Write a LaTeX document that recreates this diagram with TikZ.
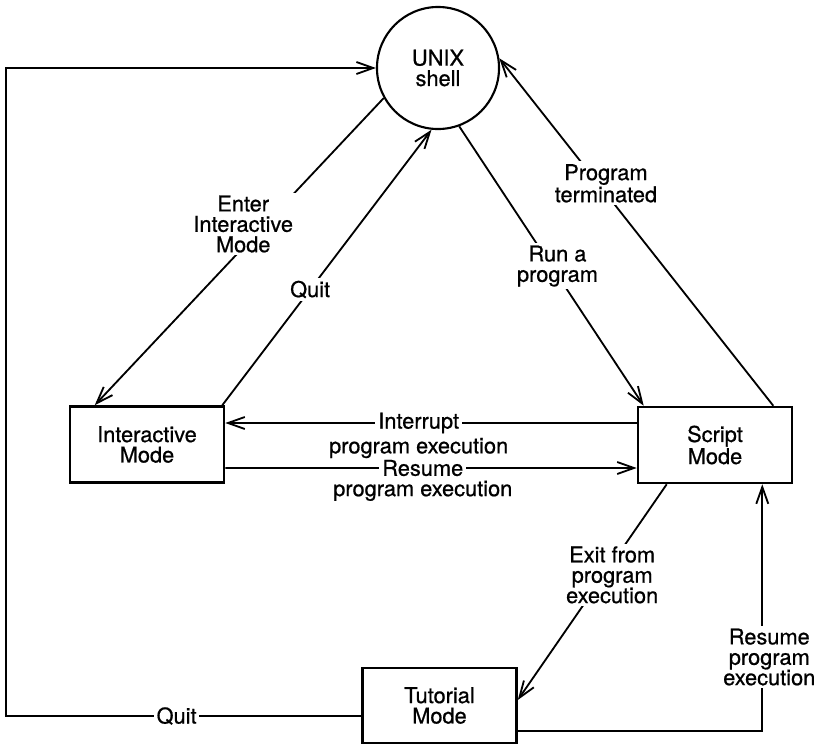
\documentclass[tikz,border=0pt]{standalone}
\usepackage{fontspec}
\setmainfont[BoldFont={TeX Gyre Heros}, BoldFeatures={FakeBold=0.7}]{TeX Gyre Heros}
\usetikzlibrary{arrows.meta,calc}

\begin{document}
\begin{tikzpicture}[x=0.025cm,y=-0.025cm,
    font=\fontsize{15.5}{14.5}\selectfont\bfseries,
    mode/.style={draw, line width=1.8pt, minimum width=3.85cm, minimum height=1.9cm, align=center, inner sep=2pt},
    arr/.style={line width=1.3pt, -{Straight Barb[length=4.2mm,width=3mm]}},
    lbl/.style={fill=white, align=center, inner sep=2pt}]
    \useasboundingbox (0,0) rectangle (818,745);

\node[draw, circle, line width=1.5pt, minimum size=3.05cm, align=center] (unix) at (438,68) {UNIX\\shell};
\node[mode] (inter) at (147,444.5) {Interactive\\Mode};
\node[mode] (script) at (715,445) {Script\\Mode};
\node[mode, minimum height=1.875cm] (tut) at (439.5,705.5) {Tutorial\\Mode};

%   shell <-> interactive / script
\draw[arr] (unix.209) -- node[lbl, pos=0.41, xshift=-0.55cm] (lenter) {Enter\\Interactive\\Mode} ($(inter.north west)+(26,0)$);
\draw[arr] ($(inter.north east)+(-3,0)$) -- node[lbl, pos=0.42] (lquitup) {Quit} (unix.264);
\draw[arr] (unix.290) -- node[lbl, pos=0.5, xshift=0.15cm] (lrun) {Run a\\program} ($(script.north west)+(7,0)$);
\draw[arr] ($(script.north east)+(-20,0)$) -- node[lbl, pos=0.64, xshift=0.2cm] (lterm) {Program\\terminated} (unix.9);

\draw[arr] ($(script.west)+(0,-22)$) -- node[lbl, pos=0.53, label={[inner sep=0, label distance=0pt]below:program execution}] (lint) {Interrupt} ($(inter.east)+(0,-21.5)$);
\draw[arr] ($(inter.east)+(0,23.5)$) -- node[lbl, pos=0.48, label={[inner sep=0, label distance=0pt]below:program execution}] (lres) {Resume} ($(script.west)+(0,23)$);

%   tutorial
\draw[arr] ($(script.south west)+(30,0)$) -- node[lbl, pos=0.42, xshift=0.2cm] (lexit) {Exit from\\program\\execution} ($(tut.east)+(0,-5.5)$);
\draw[arr] ($(tut.east)+(0,25.5)$) -| node[lbl, pos=0.65, xshift=0.175cm] (lresume) {Resume\\program\\execution} ($(script.south east)+(-31,0)$);
\draw[arr] ($(tut.west)+(0,10.5)$) -- node[lbl, pos=0.52] (lquitdown) {Quit} ++(-355,0) |- (unix.west);

\end{tikzpicture}
\end{document}
